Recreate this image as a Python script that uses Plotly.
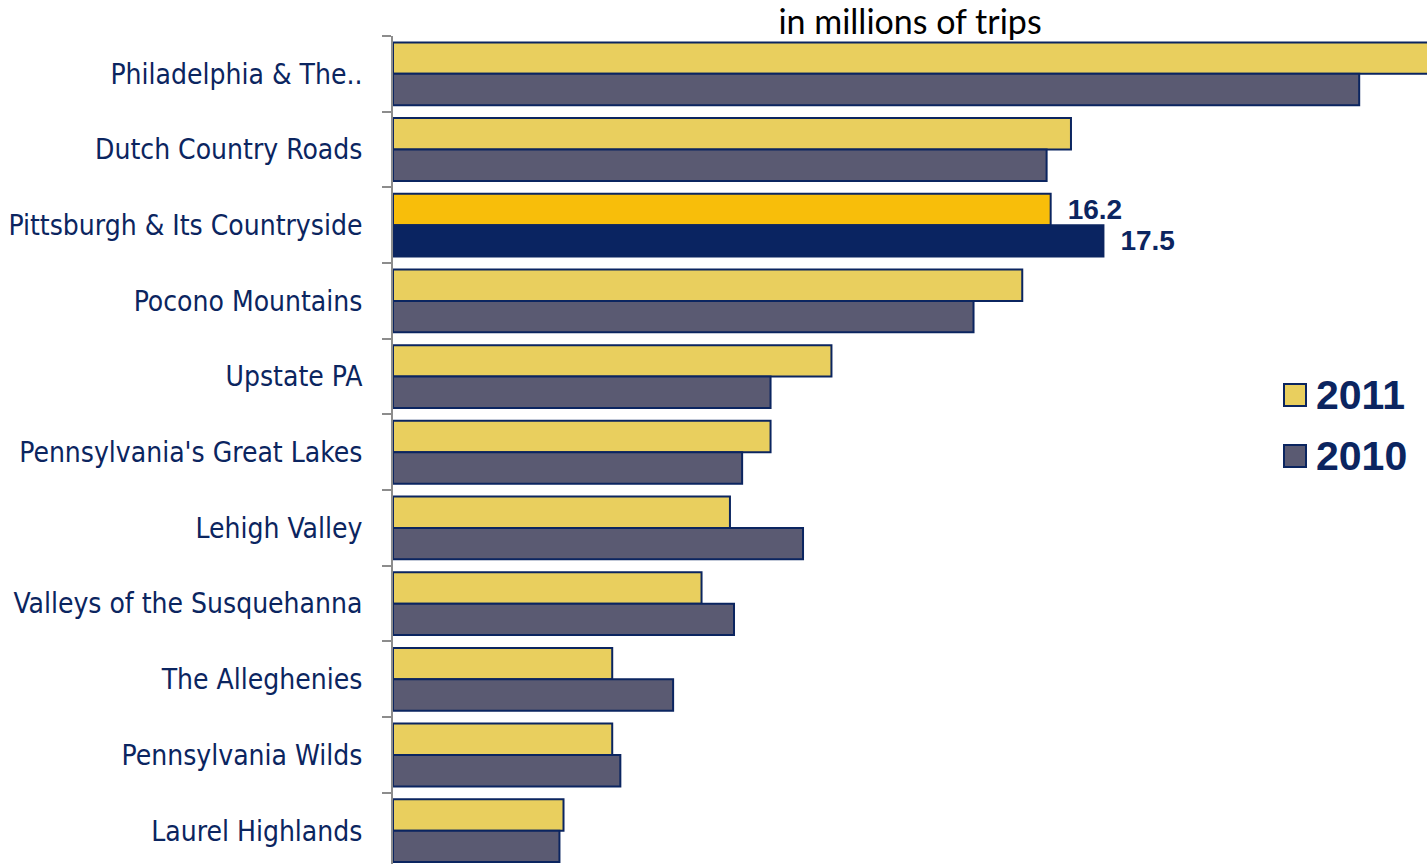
import plotly.graph_objects as go

categories = [
    "Philadelphia & The..",
    "Dutch Country Roads",
    "Pittsburgh & Its Countryside",
    "Pocono Mountains",
    "Upstate PA",
    "Pennsylvania's Great Lakes",
    "Lehigh Valley",
    "Valleys of the Susquehanna",
    "The Alleghenies",
    "Pennsylvania Wilds",
    "Laurel Highlands",
]
trips_2011 = [26.5, 16.7, 16.2, 15.5, 10.8, 9.3, 8.3, 7.6, 5.4, 5.4, 4.2]
trips_2010 = [23.8, 16.1, 17.5, 14.3, 9.3, 8.6, 10.1, 8.4, 6.9, 5.6, 4.1]
series_names = ["2011", "2010"]
highlight = "Pittsburgh & Its Countryside"

NAVY = "#0B2560"
C2011 = "#E9CF5E"
C2010 = "#5A5A72"
H2011 = "#F8BE0A"
H2010 = "#0A2461"

W, H = 1427, 864
ML, MR, MT, MB = 393, 0, 36, 0
PW, PH = W - ML - MR, H - MT - MB


def px_x(p):
    return (p - ML) / PW


def px_y(p):
    return 1 - (p - MT) / PH


col11 = [H2011 if c == highlight else C2011 for c in categories]
col10 = [H2010 if c == highlight else C2010 for c in categories]
txt11 = [f"\u2002{v:.1f}" if c == highlight else "" for c, v in zip(categories, trips_2011)]
txt10 = [f"\u2002{v:.1f}" if c == highlight else "" for c, v in zip(categories, trips_2010)]

label_font = dict(family="Liberation Sans, Arial, sans-serif", size=28, color=NAVY, weight="bold")

fig = go.Figure()
fig.add_trace(go.Bar(
    name=series_names[0], y=categories, x=trips_2011, orientation="h",
    marker=dict(color=col11, line=dict(color=NAVY, width=2)),
    text=txt11, textposition="outside", cliponaxis=True, textfont=label_font,
    showlegend=False,
))
fig.add_trace(go.Bar(
    name=series_names[1], y=categories, x=trips_2010, orientation="h",
    marker=dict(color=col10, line=dict(color=NAVY, width=2)),
    text=txt10, textposition="outside", cliponaxis=True, textfont=label_font,
    showlegend=False,
))

# custom legend (large square swatches)
legend_items = [(series_names[0], C2011, 395), (series_names[1], C2010, 456)]
for name, col, cy in legend_items:
    fig.add_shape(
        type="rect", xref="paper", yref="paper",
        x0=px_x(1284), x1=px_x(1306), y0=px_y(cy + 11), y1=px_y(cy - 11),
        fillcolor=col, line=dict(color=NAVY, width=2),
    )
    fig.add_annotation(
        xref="paper", yref="paper", x=px_x(1314), y=px_y(cy),
        xanchor="left", yanchor="middle", text=name, showarrow=False,
        font=dict(family="Liberation Sans, Arial, sans-serif", size=41, color=NAVY, weight="bold"),
    )

fig.update_layout(
    width=W, height=H,
    margin=dict(l=ML, r=MR, t=MT, b=MB),
    paper_bgcolor="white", plot_bgcolor="white",
    barmode="group", bargap=0.17, bargroupgap=0,
    showlegend=False,
    title=dict(
        text="in millions of trips", x=(ML + PW / 2) / W, xanchor="center",
        y=1 - 22 / H, yanchor="middle",
        font=dict(family="Lato, Open Sans, sans-serif", size=34, color="black"),
    ),
    xaxis=dict(range=[0, 25.47], visible=False, showgrid=False, zeroline=False),
    yaxis=dict(
        type="category", range=[10.44, -0.5],
        showline=True, linecolor="#8C8C8C", linewidth=2,
        ticks="outside", tickson="boundaries", ticklen=9, tickcolor="#8C8C8C", tickwidth=2,
        ticklabelstandoff=23,
        tickfont=dict(family="Liberation Sans Narrow, Arial Narrow, DejaVu Sans Condensed, sans-serif", size=28, color=NAVY),
        showgrid=False, zeroline=False,
    ),
)

fig.write_html("out.html")
